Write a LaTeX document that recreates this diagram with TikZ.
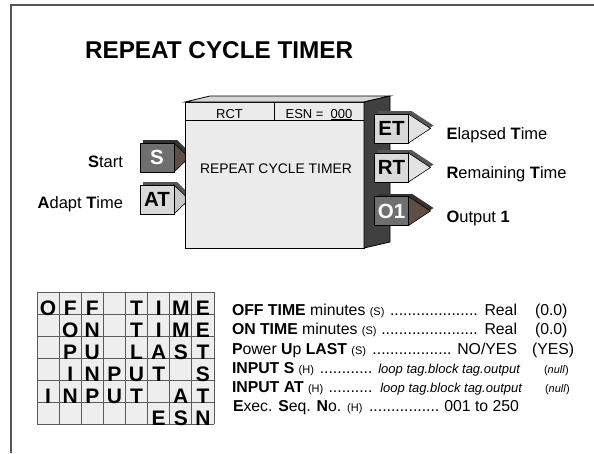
\documentclass[tikz,border=0pt]{standalone}
\usepackage{fontspec}
\setmainfont{Liberation Sans}
\usetikzlibrary{positioning}
\definecolor{faceFront}{HTML}{EBEBEB}
\definecolor{faceTop}{HTML}{D6D6D6}
\definecolor{faceSide}{HTML}{404040}
\definecolor{portDark}{HTML}{6F6F6F}
\definecolor{portLight}{HTML}{D9D9D9}
\definecolor{tipDark}{HTML}{5E4E44}
\definecolor{tipLight}{HTML}{E2E2E2}
\definecolor{tipLightIn}{HTML}{C8C8C8}
\definecolor{rimDark}{HTML}{333333}
\definecolor{rimLight}{HTML}{555555}
\definecolor{gridFill}{HTML}{EEEEEE}
\definecolor{gridLine}{HTML}{5A5A5A}
\definecolor{frameGray}{HTML}{555555}

\begin{document}
\begin{tikzpicture}[
    x=1pt, y=-1pt,
    every node/.style={inner sep=0pt, outer sep=0pt},
    edgeline/.style={draw=black, line width=0.8pt},
    block/.style={edgeline, fill=faceFront, minimum width=179pt, minimum height=146pt},
    portbox/.style={draw=black, line width=0.6pt, minimum width=34pt, minimum height=29pt,
                    font=\fontsize{20.5}{22}\selectfont\bfseries},
    portlbl/.style={font=\fontsize{16.5}{19}\selectfont},
    headtxt/.style={anchor=base, font=\fontsize{13}{15}\selectfont},
    gridletter/.style={anchor=base, font=\fontsize{21}{23}\selectfont\bfseries},
    spec/.style={anchor=base west, font=\fontsize{15.8}{18}\selectfont},
    small/.style={font=\fontsize{11}{13}\selectfont},
]
\useasboundingbox (0,0) rectangle (594,453);
% page frame
\draw[frameGray, line width=1.2pt] (11,453) -- (11,5) -- (594,5);

% title
\node[anchor=base west, font=\fontsize{24.3}{28}\selectfont\bfseries] (title) at (85,58) {REPEAT CYCLE TIMER};

% input ports (behind the block)
\foreach \nm/\px/\py/\txt/\boxc/\tipc/\rimc/\txtc in
    {s/157/157.5/S/portDark/tipDark/rimDark/white,
     at/157/199.5/AT/portLight/tipLightIn/rimLight/black} {
  \begin{scope}[shift={(3,-3)}]
    \fill[\rimc] (\px+17,\py-14.5) -- (\px+32,\py) -- (\px+17,\py+14.5) -- cycle;
    \fill[\rimc] (\px-17,\py-14.5) rectangle (\px+17,\py+14.5);
  \end{scope}
  \filldraw[fill=\tipc, draw=black, line width=0.6pt]
    (\px+17,\py-14.5) -- (\px+32,\py) -- (\px+17,\py+14.5) -- cycle;
  \node[portbox, fill=\boxc, text=\txtc] (\nm) at (\px,\py) {\txt};
}

% the block
\node[block] (rct) at (274.5,175) {};
\filldraw[edgeline, fill=faceTop] (rct.north west) -- ++(25,-6) -- ++(180,0) -- (rct.north east) -- cycle;
\filldraw[edgeline, fill=faceSide] (rct.north east) -- ++(26,-6) -- ++(0,146) -- (rct.south east) -- cycle;
\draw[edgeline] ([yshift=-18pt]rct.north west) -- ([yshift=-18pt]rct.north east);
\draw[edgeline] (rct.north) -- ++(0,18);
\node[headtxt] (rct-tag) at (229.5,118) {RCT};
\node[headtxt] (rct-esn) at (319,118) {ESN =\ \ \underline{000}};
\node[font=\fontsize{13.9}{16}\selectfont] (rct-name) at (276,169) {REPEAT CYCLE TIMER};

% output ports (on the side face)
\foreach \nm/\px/\py/\txt/\boxc/\tipc/\rimc/\txtc in
    {et/391.5/128.5/ET/portLight/tipLight/rimLight/black,
     rt/391.5/167.5/RT/portLight/tipLight/rimLight/black,
     o1/391.5/211/O1/portDark/tipDark/rimDark/white} {
  \begin{scope}[shift={(3,-3)}]
    \fill[\rimc] (\px+17,\py-14.5) -- (\px+39,\py) -- (\px+17,\py+14.5) -- cycle;
    \fill[\rimc] (\px-17,\py-14.5) rectangle (\px+17,\py+14.5);
  \end{scope}
  \filldraw[fill=\tipc, draw=black, line width=0.6pt]
    (\px+17,\py-14.5) -- (\px+39,\py) -- (\px+17,\py+14.5) -- cycle;
  \node[portbox, fill=\boxc, text=\txtc] (\nm) at (\px,\py) {\txt};
}

% port labels
\node[portlbl, anchor=base east] (s-lbl) at ([xshift=-17pt, yshift=-10pt]s.west) {\textbf{S}tart};
\node[portlbl, anchor=base east] (at-lbl) at ([xshift=-17pt, yshift=-9pt]at.west) {\textbf{A}dapt \textbf{T}ime};
\node[portlbl, anchor=base west] (et-lbl) at ([xshift=38pt, yshift=-11pt]et.east) {\textbf{E}lapsed \textbf{T}ime};
\node[portlbl, anchor=base west] (rt-lbl) at ([xshift=38pt, yshift=-11pt]rt.east) {\textbf{R}emaining \textbf{T}ime};
\node[portlbl, anchor=base west] (o1-lbl) at ([xshift=38pt, yshift=-11pt]o1.east) {\textbf{O}utput \textbf{1}};

% parameter grid
\fill[gridFill] (37,292) rectangle (214,424);
\foreach \i in {0,...,8}
  \draw[gridLine, line width=0.9pt] (37+\i*22.125,292) -- (37+\i*22.125,424);
\foreach \j in {0,...,6}
  \draw[gridLine, line width=0.9pt] (37,292+\j*22) -- (214,292+\j*22);
\foreach \row [count=\r] in {{O,F,F,-,T,I,M,E},{-,O,N,-,T,I,M,E},{-,P,U,-,L,A,S,T},
                             {-,I,N,P,U,T,-,S},{I,N,P,U,T,-,A,T},{-,-,-,-,-,E,S,N}}
  \foreach \ch [count=\c] in \row {
    \if\ch-\else
      \node[gridletter] (cell-\r-\c) at (37+\c*22.125-11.06,292+\r*22+1.5) {\ch};
    \fi
  };

% parameter list
\node[spec] (p-off) at (232,315) {\hbox to 285pt{\textbf{OFF TIME} minutes {\fontsize{11}{13}\selectfont(S)} \leaders\hbox{.}\hfill\ Real}};
\node[spec] (d-off) at (535,315) {(0.0)};
\node[spec] (p-on) at (232,334.5) {\hbox to 285pt{\textbf{ON TIME} minutes {\fontsize{11}{13}\selectfont(S)} \leaders\hbox{.}\hfill\ Real}};
\node[spec] (d-on) at (535,334.5) {(0.0)};
\node[spec] (p-pul) at (232,354) {\hbox to 285pt{\textbf{P}ower \textbf{U}p \textbf{LAST} {\fontsize{11}{13}\selectfont(S)} \leaders\hbox{.}\hfill\ NO/YES}};
\node[spec] (d-pul) at (532,354) {(YES)};
\node[spec] (p-ins) at (232,373) {\hbox to 288pt{\textbf{INPUT S} {\fontsize{11}{13}\selectfont(H)} \leaders\hbox{.}\hfill\ {\fontsize{13}{15}\selectfont\itshape loop tag.block tag.output}}};
\node[spec, small] (d-ins) at (544,373) {(\textit{null})};
\node[spec] (p-inat) at (232,392) {\hbox to 290pt{\textbf{INPUT AT} {\fontsize{11}{13}\selectfont(H)} \leaders\hbox{.}\hfill\ {\fontsize{13}{15}\selectfont\itshape loop tag.block tag.output}}};
\node[spec, small] (d-inat) at (545,392) {(\textit{null})};
\node[spec] (p-esn) at (233,411) {\hbox to 286pt{\textbf{E}xec. \textbf{S}eq. \textbf{N}o. {\fontsize{11}{13}\selectfont(H)} \leaders\hbox{.}\hfill\ 001 to 250}};
\end{tikzpicture}
\end{document}
